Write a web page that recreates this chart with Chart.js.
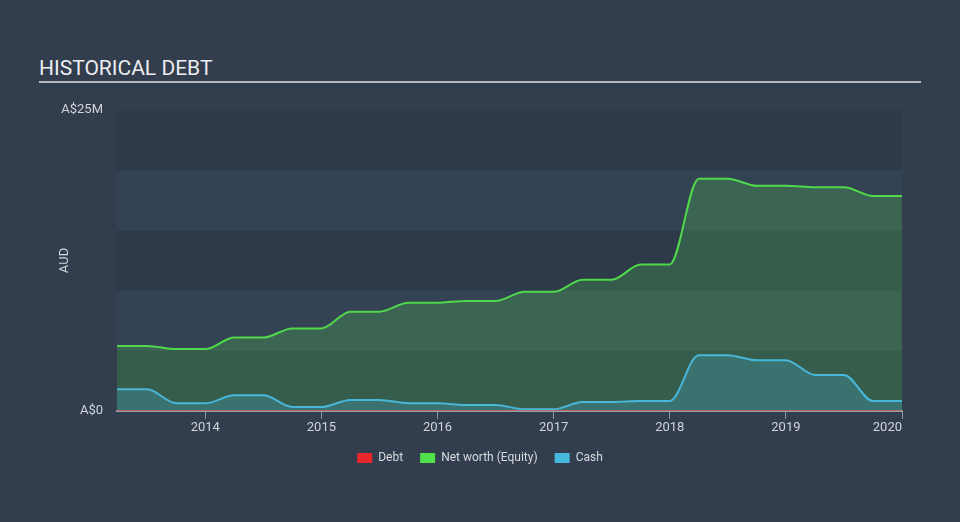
<!DOCTYPE html>
<html>
<head>
<meta charset="utf-8">
<script src="https://cdn.jsdelivr.net/npm/chart.js@4/dist/chart.umd.min.js"></script>
<style>
    html, body { margin: 0; padding: 0; background: #323d4d; }
    #wrap { position: relative; width: 960px; height: 522px; overflow: hidden; }
    #title {
        position: absolute; left: 39px; top: 56px; width: 882px;
        font: 21px Roboto, sans-serif; color: #eceef0;
        border-bottom: 2px solid #b4b7bc; padding-bottom: 1px; line-height: 24px;
    }
    canvas { position: absolute; left: 0; top: 0; }
</style>
</head>
<body>
<div id="wrap">
    <div id="title">HISTORICAL DEBT</div>
    <canvas id="debtChart" width="960" height="522"></canvas>
</div>
<script>
// quarterly dates (fractional years)
const dates = [2013.24, 2013.5, 2013.75, 2014.0, 2014.25, 2014.5, 2014.75, 2015.0,
    2015.25, 2015.5, 2015.75, 2016.0, 2016.25, 2016.5, 2016.75, 2017.0,
    2017.25, 2017.5, 2017.75, 2018.0, 2018.25, 2018.5, 2018.75, 2019.0,
    2019.25, 2019.5, 2019.75, 2020.0];

// values in A$ millions
const debt = [0, 0, 0, 0, 0, 0, 0, 0, 0, 0, 0, 0, 0, 0,
    0, 0, 0, 0, 0, 0, 0, 0, 0, 0, 0, 0, 0, 0];
const netWorth = [5.4, 5.4, 5.14, 5.14, 6.1, 6.1, 6.86, 6.86, 8.25, 8.25, 9.0, 9.0, 9.14, 9.14,
    9.9, 9.9, 10.9, 10.9, 12.17, 12.17, 19.3, 19.3, 18.7, 18.7, 18.58, 18.58, 17.86, 17.86];
const cash = [1.8, 1.8, 0.64, 0.64, 1.3, 1.3, 0.33, 0.33, 0.92, 0.92, 0.64, 0.64, 0.5, 0.5,
    0.14, 0.14, 0.75, 0.75, 0.83, 0.83, 4.64, 4.64, 4.22, 4.22, 3.0, 3.0, 0.83, 0.83];

const xTicks = [2014, 2015, 2016, 2017, 2018, 2019, 2020];
const yTicks = [0, 25];
const bandEdges = [0, 5, 10, 15, 20, 25];

const xMin = dates[0];
const xMax = dates[dates.length - 1];

function toPoints(values) {
    return values.map((v, i) => ({ x: dates[i], y: v }));
}

/**
 * Horizontal stripes behind the plot
 */
const bandsPlugin = {
    id: 'bands',
    beforeDraw(chart) {
        const { ctx, chartArea, scales } = chart;
        const y = scales.y;
        ctx.save();
        for (let i = 0; i < bandEdges.length - 1; i++) {
            const top = y.getPixelForValue(bandEdges[i + 1]);
            const bottom = y.getPixelForValue(bandEdges[i]);
            ctx.fillStyle = i % 2 === 0 ? '#2e3a4a' : '#344354';
            ctx.fillRect(chartArea.left, top, chartArea.right - chartArea.left, bottom - top);
        }
        ctx.restore();
    }
};

const legendColors = ['#e8262b', '#4fe04a', '#48b9de'];
const labelFont = { family: 'Roboto', size: 13 };

new Chart(document.getElementById('debtChart'), {
    type: 'line',
    data: {
        datasets: [
            {
                label: 'Debt',
                data: toPoints(debt),
                borderColor: 'rgba(232, 60, 60, 0.6)',
                backgroundColor: legendColors[0],
                borderWidth: 2,
                fill: false,
                pointRadius: 0,
                cubicInterpolationMode: 'monotone',
                order: 0
            },
            {
                label: 'Net worth (Equity)',
                data: toPoints(netWorth),
                borderColor: '#4fd94a',
                backgroundColor: 'rgba(78, 200, 80, 0.25)',
                borderWidth: 2,
                fill: 'origin',
                pointRadius: 0,
                cubicInterpolationMode: 'monotone',
                order: 2
            },
            {
                label: 'Cash',
                data: toPoints(cash),
                borderColor: '#48b6d9',
                backgroundColor: 'rgba(71, 180, 220, 0.25)',
                borderWidth: 2,
                fill: 'origin',
                pointRadius: 0,
                cubicInterpolationMode: 'monotone',
                order: 1
            }
        ]
    },
    options: {
        responsive: false,
        animation: false,
        layout: { padding: { left: 0, right: 0, top: 110, bottom: 48 } },
        scales: {
            x: {
                type: 'linear',
                min: xMin,
                max: xMax,
                afterBuildTicks: scale => {
                    scale.ticks = [xMin].concat(xTicks).map(v => ({ value: v }));
                },
                afterFit: scale => { scale.height = 24; },
                ticks: {
                    align: 'inner',
                    autoSkip: false,
                    maxRotation: 0,
                    padding: 1,
                    color: '#d2d5da',
                    font: labelFont,
                    callback: (value) => value === xMin ? '' : String(value)
                },
                grid: {
                    drawOnChartArea: false,
                    drawTicks: true,
                    tickLength: 8,
                    color: ctx => ctx.index === 0 ? 'rgba(0,0,0,0)' : '#8a95a3'
                },
                border: { display: true, color: '#9a9ea6', width: 2 }
            },
            y: {
                min: 0,
                max: 25,
                afterBuildTicks: scale => {
                    scale.ticks = yTicks.map(v => ({ value: v }));
                },
                afterFit: scale => { scale.width = 117; },
                ticks: {
                    padding: 14,
                    color: '#d2d5da',
                    font: labelFont,
                    callback: v => v === 0 ? 'A$0' : 'A$' + v + 'M'
                },
                grid: { display: false, drawTicks: false },
                border: { display: false },
                title: {
                    display: true,
                    text: 'AUD',
                    color: '#d2d5da',
                    font: labelFont,
                    padding: { top: 57, bottom: 0 }
                }
            },
            // empty spacer on the right so the legend centres on the page
            spacer: {
                type: 'linear',
                position: 'right',
                display: true,
                afterFit: scale => { scale.width = 58; },
                ticks: { display: false },
                grid: { display: false, drawTicks: false },
                border: { display: false }
            }
        },
        plugins: {
            legend: {
                position: 'bottom',
                labels: {
                    color: '#d8dbdf',
                    font: { family: 'Roboto', size: 12 },
                    boxWidth: 15,
                    boxHeight: 10,
                    padding: 17,
                    generateLabels: chart => chart.data.datasets.map((ds, i) => ({
                        text: ds.label,
                        fillStyle: legendColors[i],
                        strokeStyle: legendColors[i],
                        lineWidth: 0,
                        fontColor: '#d8dbdf',
                        hidden: false,
                        datasetIndex: i
                    }))
                }
            },
            tooltip: { enabled: false }
        }
    },
    plugins: [bandsPlugin]
});
</script>
</body>
</html>
